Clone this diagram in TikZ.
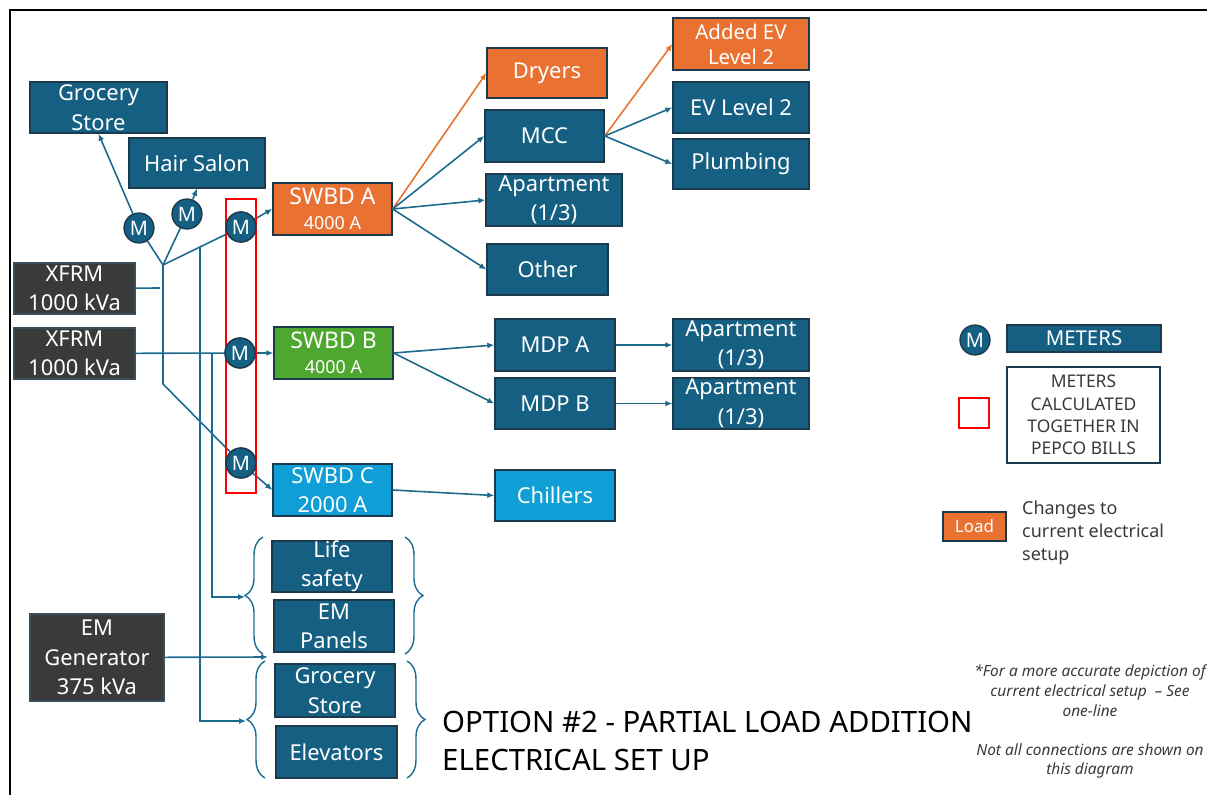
\documentclass[tikz,border=0pt]{standalone}
\usepackage{fontspec}
\setmainfont{Noto Sans}
\usetikzlibrary{arrows.meta,fit,decorations.pathreplacing}

\definecolor{boxc}{HTML}{156082}
\definecolor{edgec}{HTML}{1C3A4C}
\definecolor{orangec}{HTML}{E97132}
\definecolor{greenc}{HTML}{4EA72E}
\definecolor{lightc}{HTML}{0F9ED5}
\definecolor{grayc}{HTML}{3A3A3A}
\definecolor{wirec}{HTML}{1D6A8F}
\definecolor{notec}{HTML}{3A3A3A}

\tikzset{
  box/.style={draw=edgec, line width=1.4pt, fill=boxc, inner sep=0pt},
  obox/.style={box, fill=orangec},
  gbox/.style={box, fill=greenc},
  lbox/.style={box, fill=lightc},
  xbox/.style={box, fill=grayc, draw=edgec!70!gray},
  wbox/.style={box, fill=white},
  lbl/.style={text=white, align=center, inner sep=0pt, font=\fontsize{22}{29.5}\selectfont},
  slbl/.style={lbl, font=\fontsize{20.5}{25}\selectfont},
  meter/.style={circle, fill=boxc, draw=edgec, line width=1.4pt, minimum size=30pt,
    inner sep=0pt, text=white, font=\fontsize{20}{20}\selectfont},
  wire/.style={draw=wirec, line width=1.6pt},
  arr/.style={wire, -{Latex[length=7pt,width=6pt]}},
  oarr/.style={arr, draw=orangec},
  brc/.style={draw=wirec, line width=1.4pt, decorate, decoration={brace, amplitude=18pt}},
}

% block: name, style, corner, corner, text
\newcommand\blk[6][lbl]{%
  \node[#3, fit={(#4) (#5)}] (#2) {};
  \node[#1] at (#2.center) {#6};}

\begin{document}
\begin{tikzpicture}[x=1bp, y=-1bp]
\useasboundingbox (0,0) rectangle (1207,795);

% frame
\draw[line width=3pt] (10,795) -- (10,10) -- (1207,10);

% supply side
\blk{x1}{xbox}{14,263}{135,314}{XFRM\\1000 kVa}
\blk{x2}{xbox}{14,328}{135,379}{XFRM\\1000 kVa}
\blk{em}{xbox}{30,614}{164,701}{EM\\Generator\\375 kVa}

% customer loads fed directly
\blk{g1}{box}{30,82}{167,133}{Grocery\\Store}
\blk{hs}{box}{129,138}{265,188}{Hair Salon}

% switchboards
\blk{swa}{obox}{273,183}{392,235}{\fontsize{23}{25}\selectfont SWBD A\\[-4pt]{\fontsize{18}{20}\selectfont 4000 A}}
\blk{swb}{gbox}{274,327}{393,379}{\fontsize{23}{25}\selectfont SWBD B\\[-4pt]{\fontsize{18}{20}\selectfont 4000 A}}
\blk{swc}{lbox}{273,464}{392,516}{SWBD C\\2000 A}

% emergency loads
\blk{ls}{box}{272,541}{392,592}{Life\\safety}
\blk{ep}{box}{274,600}{394,652}{EM\\Panels}
\blk{g2}{box}{275,664}{395,717}{Grocery\\Store}
\blk{el}{box}{276,726}{397,778}{Elevators}

% SWBD A branch
\blk{dry}{obox}{487,48}{607,98}{Dryers}
\blk{mcc}{box}{485,110}{604,162}{MCC}
\blk{apa}{box}{486,174}{622,226}{Apartment\\(1/3)}
\blk{oth}{box}{487,244}{608,295}{Other}
\blk[slbl]{aev}{obox}{673,18}{809,70}{Added EV\\Level 2}
\blk{ev2}{box}{673,82}{809,133}{EV Level 2}
\blk{plb}{box}{673,139}{809,189}{Plumbing}

% SWBD B branch
\blk{mda}{box}{495,319}{615,371}{MDP A}
\blk{mdb}{box}{495,378}{615,429}{MDP B}
\blk{apb}{box}{673,319}{809,371}{Apartment\\(1/3)}
\blk{apc}{box}{673,378}{809,429}{Apartment\\(1/3)}

% SWBD C branch
\blk{chl}{lbox}{495,470}{615,521}{Chillers}

% meters
\node[meter] (m1) at (139,228) {M};
\node[meter] (m2) at (187,214) {M};
\node[meter] (m3) at (241,227) {M};
\node[meter] (m4) at (240,353) {M};
\node[meter] (m5) at (241,463) {M};

% feeder wiring
\coordinate (br) at (163,265);
\coordinate (x1e) at (160,288);
\coordinate (bk) at (163,384);
\coordinate (t1) at (200,247);
\coordinate (c1) at (200,721);
\coordinate (b2) at (246,721);
\coordinate (t2) at (212,353);
\coordinate (c2) at (212,597);
\coordinate (b1) at (245,597);
\coordinate (gj) at (268,657);

\draw[wire] (br) -- (m1);
\draw[arr] (m1) -- (g1.south);
\draw[wire] (br) -- (m2);
\draw[arr] (m2) -- (hs.south);
\draw[wire] (br) -- (m3);
\draw[arr] (m3) -- (swa.west);
\draw[wire] (x1) -- (x1e);
\draw[wire] (br) -- (bk) -- (m5);
\draw[arr] (m5) -- (swc.west);
\draw[wire] (x2) -- (m4);
\draw[arr] (m4) -- (swb.west);
\draw[arr] (t1) -- (c1) -- (b2);
\draw[arr] (t2) -- (c2) -- (b1);
\draw[arr] (em) -- (gj);

% meters billed together
\draw[red, line width=1.6pt] (226,199) rectangle (256,493);
\node[meter] at (m3) {M};
\node[meter] at (m4) {M};
\node[meter] at (m5) {M};

% downstream distribution
\draw[oarr] (swa.east) -- (dry.west);
\draw[arr] (swa.east) -- (mcc.west);
\draw[arr] (swa.east) -- (apa.west);
\draw[arr] (swa.east) -- (oth.west);
\draw[oarr] (mcc.east) -- (aev.west);
\draw[arr] (mcc.east) -- (ev2.west);
\draw[arr] (mcc.east) -- (plb.west);
\draw[arr] (swb.east) -- (mda.west);
\draw[arr] (swb.east) -- (mdb.west);
\draw[arr] (mda) -- (apb);
\draw[arr] (mdb) -- (apc);
\draw[arr] (swc.east) -- (chl.west);

% braces around emergency loads
\draw[brc] (263,654) -- (263,537);
\draw[brc] (265,778) -- (265,661);
\draw[brc] (405,537) -- (405,654);
\draw[brc] (407,661) -- (407,778);

% legend
\node[meter] (lm) at (975,340) {M};
\blk[lbl, font=\fontsize{20.5}{20}\selectfont]{lmet}{box}{1007,325}{1161,352}{METERS}
\blk[lbl, text=notec, font=\fontsize{17.5}{22.5}\selectfont]{lcal}{wbox}{1007,367}{1160,463}{METERS\\CALCULATED\\TOGETHER IN\\PEPCO BILLS}
\draw[red, line width=1.5pt] (959,398) rectangle (989,428);
\blk[lbl, font=\fontsize{17}{17}\selectfont]{lload}{obox}{943,512}{1006,541}{Load}
\node[anchor=north west, align=left, inner sep=0pt, text=notec,
  font=\fontsize{18}{23}\selectfont] (chg) at (1022,501) {Changes to\\current electrical\\setup};

% notes
\node[align=center, inner sep=0pt, text=notec, font=\fontsize{15.5}{20}\selectfont\itshape]
  (n1) at (1090,691) {*For a more accurate depiction of\\current electrical setup\ \ -- See\\one-line};
\node[align=center, inner sep=0pt, text=notec, font=\fontsize{15.5}{19}\selectfont\itshape]
  (n2) at (1090,761) {Not all connections are shown on\\this diagram};

% title
\node[anchor=west, align=left, inner sep=0pt, font=\fontsize{29.5}{38}\selectfont]
  (title) at (442,741) {OPTION \#2 - PARTIAL LOAD ADDITION\\ELECTRICAL SET UP};
\end{tikzpicture}
\end{document}
